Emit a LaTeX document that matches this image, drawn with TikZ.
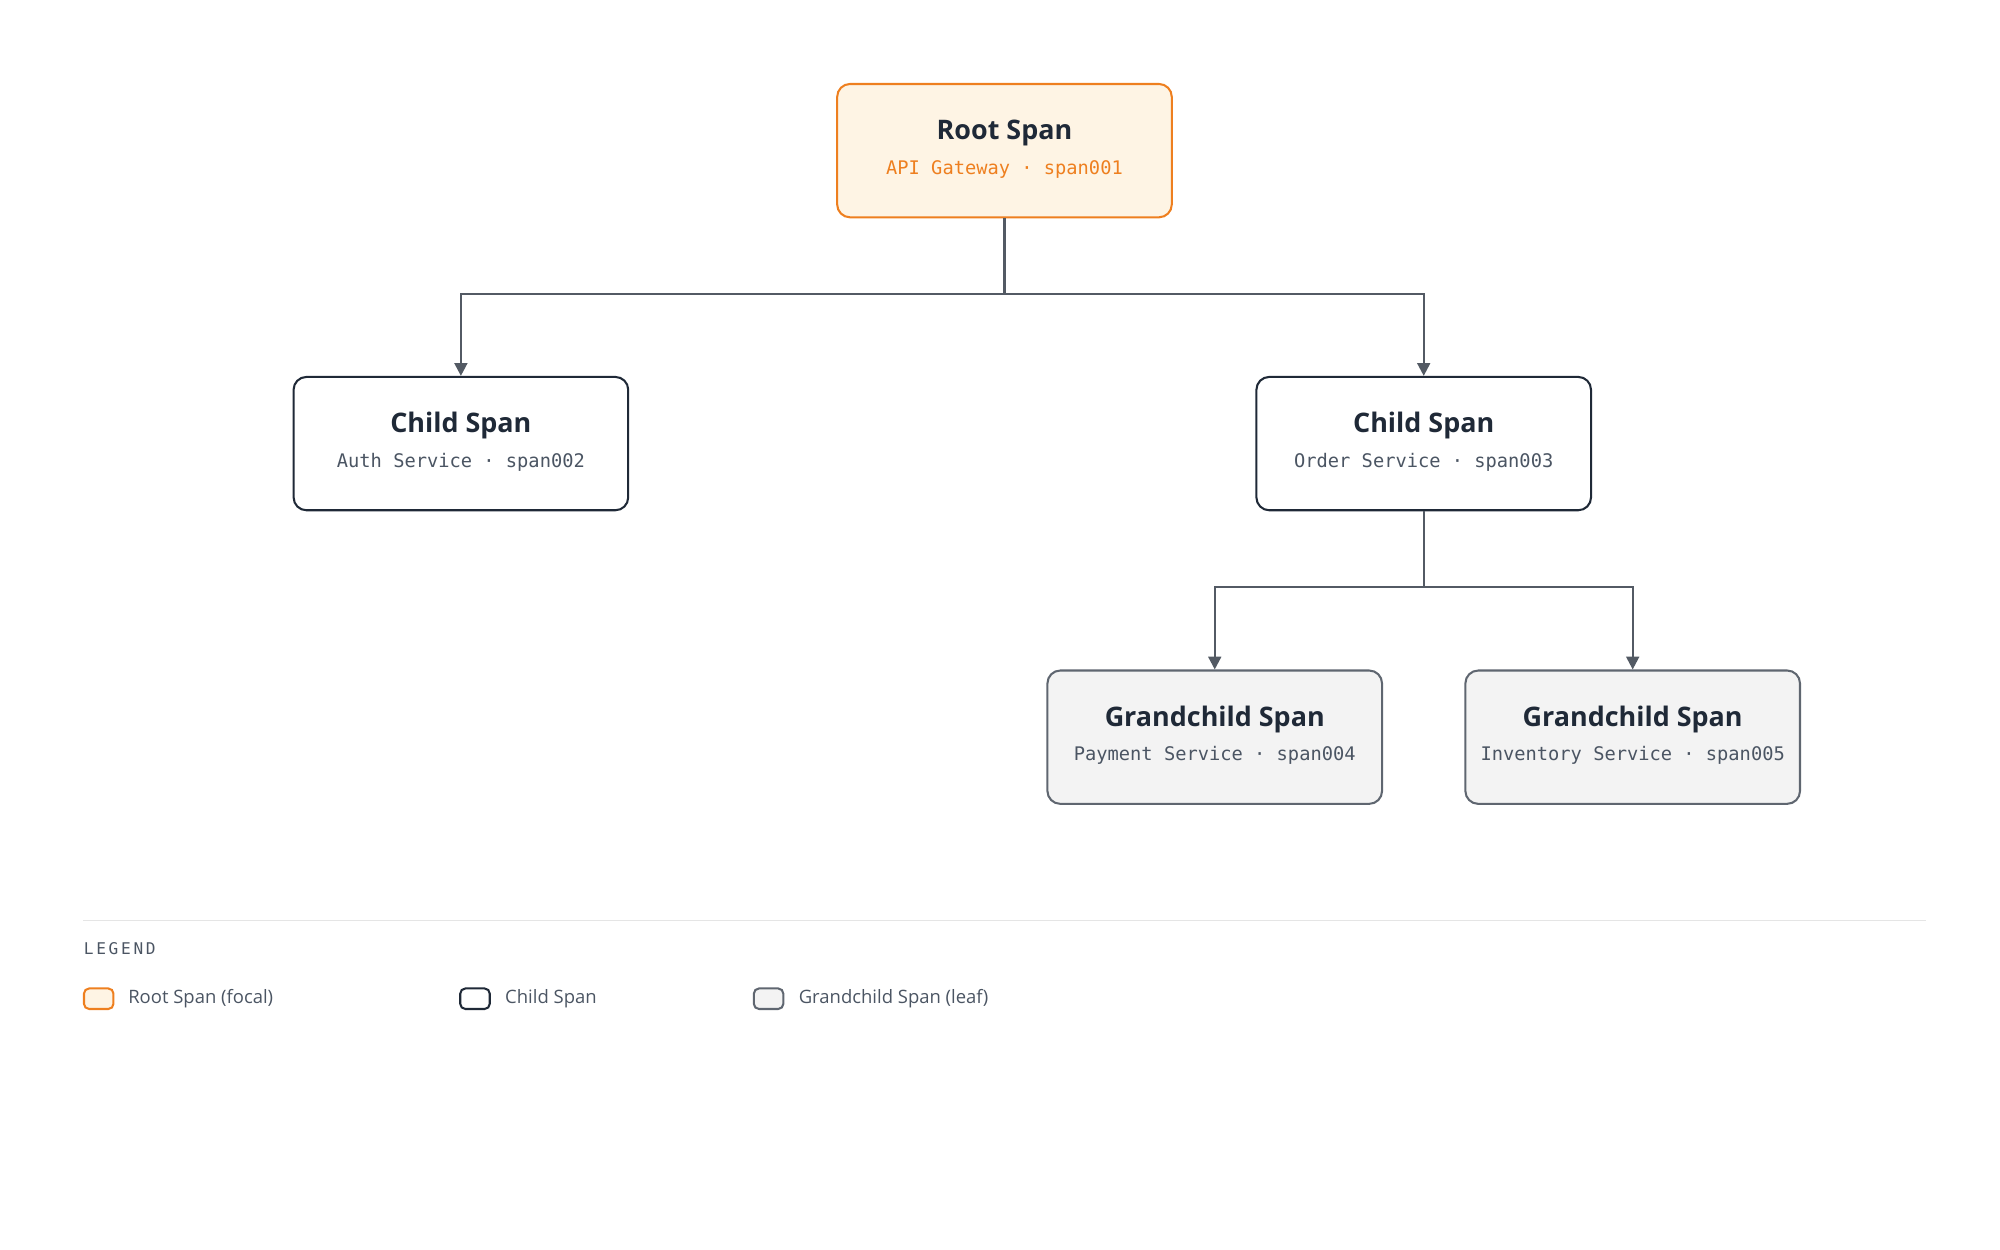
\documentclass[tikz,border=0pt]{standalone}
\usepackage{fontspec}
\setmainfont{Open Sans}
\newfontfamily\monof{DejaVu Sans Mono}
\usetikzlibrary{arrows.meta}
\definecolor{orng}{HTML}{EE7F1F}
\definecolor{orfill}{HTML}{FEF4E4}
\definecolor{dark}{HTML}{1F2937}
\definecolor{gfill}{HTML}{F3F3F3}
\definecolor{gline}{HTML}{5F6670}
\definecolor{conn}{HTML}{535A64}
\definecolor{subg}{HTML}{4B5563}
\begin{document}
\begin{tikzpicture}[x=0.5pt,y=-0.5pt,
 box/.style={rounded corners=5pt,minimum width=130.5pt,minimum height=52pt,line width=0.8pt},
 root/.style={box,draw=orng,fill=orfill},
 child/.style={box,draw=dark,fill=white},
 gc/.style={box,draw=gline,fill=gfill},
 ttl/.style={font=\bfseries\fontsize{10.5}{12}\selectfont,text=dark},
 sub/.style={font=\monof\fontsize{7.3}{9}\selectfont,text=subg},
 arr/.style={draw=conn,line width=0.9pt,-{Triangle[length=5pt,width=5pt]}},
 sw/.style={rounded corners=2pt,minimum width=11.5pt,minimum height=8pt,line width=0.8pt,inner sep=0pt},
 lt/.style={font=\fontsize{7.2}{9}\selectfont,text=subg,anchor=west}]
\useasboundingbox (0,0) rectangle (1560,975);
\node[root] (r) at (783.5,117.5) {};
\node[ttl] (rt) at (783.5,104) {Root Span};
\node[sub,text=orng] (rs) at (783.5,132) {API Gateway · span001};
\node[child] (c1) at (359.5,346) {};
\node[ttl] (c1t) at (359.5,332) {Child Span};
\node[sub] (c1s) at (359.5,361) {Auth Service · span002};
\node[child] (c2) at (1110.5,346) {};
\node[ttl] (c2t) at (1110.5,332) {Child Span};
\node[sub] (c2s) at (1110.5,361) {Order Service · span003};
\node[gc] (g1) at (947.5,575) {};
\node[ttl] (g1t) at (947.5,561) {Grandchild Span};
\node[sub] (g1s) at (947.5,589) {Payment Service · span004};
\node[gc] (g2) at (1273.5,575) {};
\node[ttl] (g2t) at (1273.5,561) {Grandchild Span};
\node[sub] (g2s) at (1273.5,589) {Inventory Service · span005};
\draw[arr] (r.south) -- ++(0,59) -| (c1.north);
\draw[arr] (r.south) -- ++(0,59) -| (c2.north);
\draw[arr] (c2.south) -- ++(0,59) -| (g1.north);
\draw[arr] (c2.south) -- ++(0,59) -| (g2.north);
\coordinate (la) at (65,718); \coordinate (lb) at (1502,718);
\draw[gray!20,line width=0.6pt] (la) -- (lb);
\node[font=\monof\fontsize{6.3}{8}\selectfont,text=subg,anchor=west,inner sep=0pt] (lg) at (65,740) {L\,E\,G\,E\,N\,D};
\node[sw,draw=orng,fill=orfill] (s1) at (77,779) {};
\node[lt] (t1) at (93,779) {Root Span (focal)};
\node[sw,draw=dark,fill=white] (s2) at (370.5,779) {};
\node[lt] (t2) at (387,779) {Child Span};
\node[sw,draw=gline,fill=gfill] (s3) at (599.5,779) {};
\node[lt] (t3) at (616,779) {Grandchild Span (leaf)};
\end{tikzpicture}
\end{document}
